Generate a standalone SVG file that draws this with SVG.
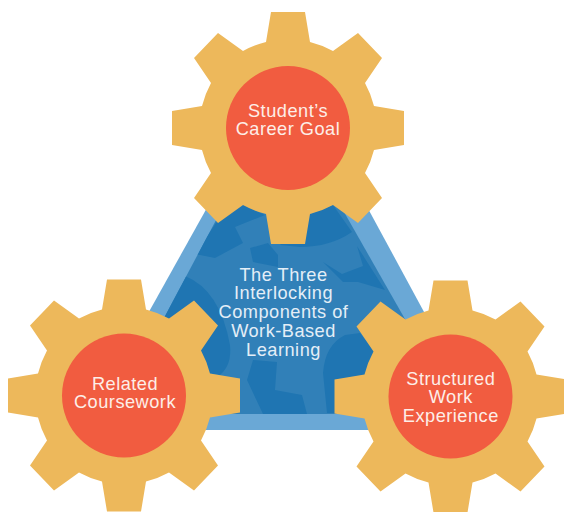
<svg xmlns="http://www.w3.org/2000/svg" xmlns:xlink="http://www.w3.org/1999/xlink" width="564" height="512" viewBox="0 0 564 512">
<style>
.gear{fill:#edb85b}
.hub{fill:#f15c40}
text{font-family:"Liberation Sans",Arial,sans-serif;font-size:18.2px;letter-spacing:.5px;text-anchor:middle}
.w{fill:#fdeee8}
.b{fill:#e4eef7}
.d{fill:#1f75b2}
</style>
<defs>
<path id="g" d="M-17-116H17L22-86Q34-83 45-77L70-95 94-70 77-45Q83-34 86-22L116-17V17L86 22Q83 34 77 45L94 70 70 95 45 77Q34 83 22 86L17 116H-17L-22 86Q-34 83-45 77L-70 95-94 70-77 45Q-83 34-86 22L-116 17V-17L-86-22Q-83-34-77-45L-94-70-70-95-45-77Q-34-83-22-86Z"/>
<clipPath id="c"><polygon points="113,414 240,175 323,175 459,414"/></clipPath>
</defs>
<rect width="564" height="512" fill="#fff"/>
<g id="triangle">
<polygon points="83,430 256,120 320,120 488,430" fill="#6aa8d6"/>
<polygon points="113,414 240,175 323,175 459,414" fill="#3180b8"/>
<g clip-path="url(#c)">
<polygon class="d" points="216,223 243,205 265,215 235,227 243,243 215,258 195,254"/>
<polygon class="d" points="250,248 268,243 278,255 278,267 253,262"/>
<path class="d" d="M280 245L308 215 333 205 352 232Q330 247 300 247Z"/>
<polygon class="d" points="357,246 385,290 358,282 343,282 323,262 342,274 363,266"/>
<path class="d" d="M185 276Q220 290 230 345Q232 365 220 375L200 372 160 320Z"/>
<path class="d" d="M327 413L323 373Q325 345 345 335L360 333 375 352 365 375 335 385V413Z"/>
<polygon class="d" points="253,360 277,362 275,390 302,395 307,414 263,414 247,380"/>
</g>
</g>
<g id="text-center">
<text class="b" x="283.5" y="280.7">The Three</text>
<text class="b" x="283.5" y="299.3">Interlocking</text>
<text class="b" x="283.5" y="318">Components of</text>
<text class="b" x="283.5" y="336.7">Work-Based</text>
<text class="b" x="283.5" y="355.7">Learning</text>
</g>
<g id="gear-top">
<use xlink:href="#g" href="#g" class="gear" x="288" y="128"/>
<circle class="hub" cx="288" cy="128" r="62"/>
<text class="w" x="288" y="116.7">Student’s</text>
<text class="w" x="288" y="135">Career Goal</text>
</g>
<g id="gear-left">
<use xlink:href="#g" href="#g" class="gear" x="124" y="395.5"/>
<circle class="hub" cx="124" cy="395.5" r="62"/>
<text class="w" x="125" y="390">Related</text>
<text class="w" x="125" y="408.3">Coursework</text>
</g>
<g id="gear-right">
<use xlink:href="#g" href="#g" class="gear" x="450.5" y="396.5"/>
<circle class="hub" cx="450.5" cy="396.5" r="62"/>
<text class="w" x="450.8" y="385">Structured</text>
<text class="w" x="450.8" y="403.3">Work</text>
<text class="w" x="450.8" y="422.3">Experience</text>
</g>
</svg>
